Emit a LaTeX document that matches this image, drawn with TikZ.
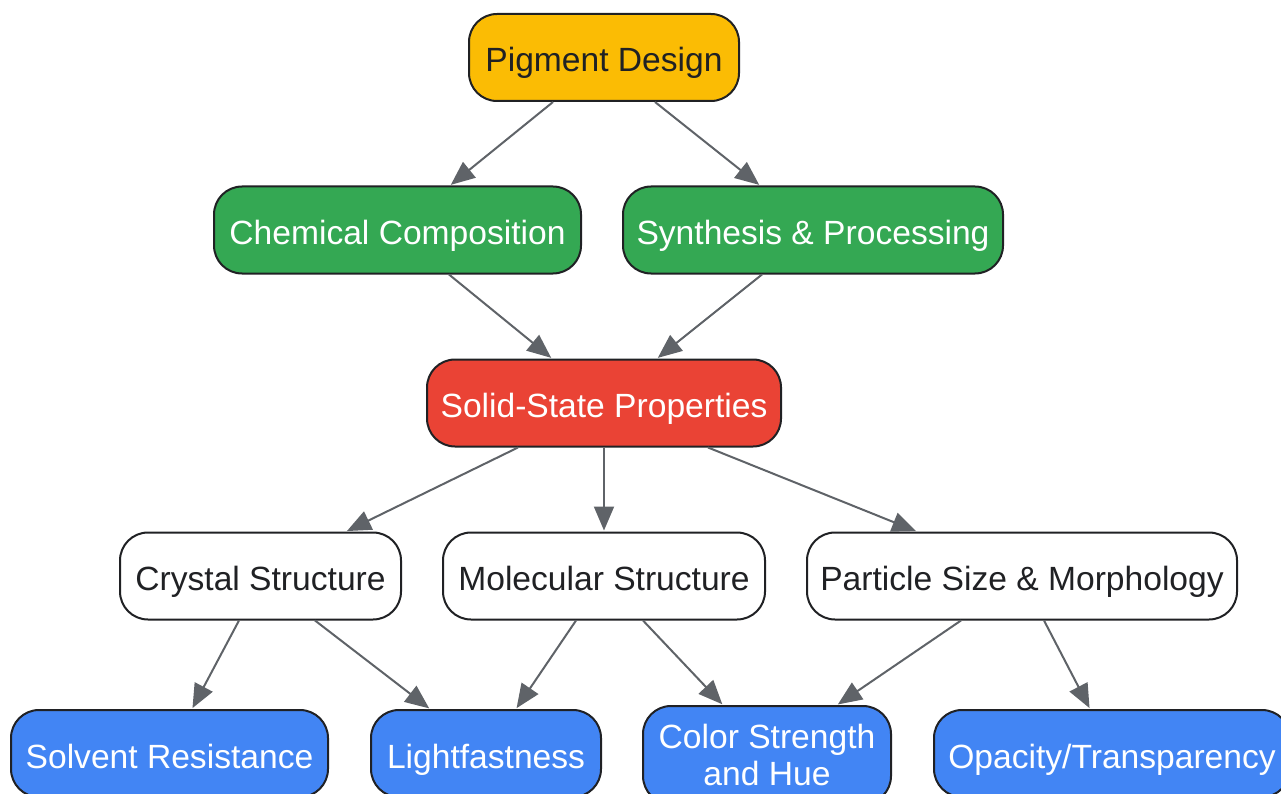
\documentclass[tikz,border=0pt]{standalone}
\usepackage{fontspec}
\setmainfont{Liberation Sans}
\usetikzlibrary{arrows.meta}
\definecolor{cyellow}{HTML}{FBBC04}
\definecolor{cgreen}{HTML}{34A853}
\definecolor{cred}{HTML}{EA4335}
\definecolor{cblue}{HTML}{4285F4}
\definecolor{cborder}{HTML}{202124}
\definecolor{carrow}{HTML}{5F6368}
\tikzset{
  box/.style={draw=cborder, line width=2pt, rounded corners=28pt, minimum height=87pt,
    inner sep=0pt, align=center, font=\fontsize{33.6}{37}\selectfont},
  oneline/.style={text height=33pt, text depth=4pt},
  yel/.style={box, oneline, fill=cyellow, text=cborder},
  grn/.style={box, oneline, fill=cgreen, text=white},
  rd/.style={box, oneline, fill=cred, text=white},
  wht/.style={box, oneline, fill=white, text=cborder},
  blu/.style={box, oneline, fill=cblue, text=white},
  blutwo/.style={box, fill=cblue, text=white},
  link/.style={draw=carrow, line width=2pt, -{Triangle[length=24pt,width=20pt]}, shorten >=1pt}
}
\begin{document}
\begin{tikzpicture}[x=1pt,y=1pt]
\useasboundingbox (0,0) rectangle (1281,-794);
\clip (0,0) rectangle (1281,-794);
\node[yel, minimum width=270pt] (pd) at (604,-57.5) {Pigment Design};
\node[grn, minimum width=367pt] (cc) at (397.5,-230) {Chemical Composition};
\node[grn, minimum width=380pt] (sp) at (813,-230) {Synthesis \& Processing};
\node[rd, minimum width=354pt] (ss) at (604,-403) {Solid-State Properties};
\node[wht, minimum width=281pt] (cs) at (260.5,-576) {Crystal Structure};
\node[wht, minimum width=322pt] (ms) at (604,-576) {Molecular Structure};
\node[wht, minimum width=430pt] (ps) at (1022,-576) {Particle Size \& Morphology};
\node[blu, minimum width=317pt] (sr) at (169.5,-753.5) {Solvent Resistance};
\node[blu, minimum width=230pt] (lf) at (486,-753.5) {Lightfastness};
\node[blutwo, minimum width=248pt, minimum height=98pt] (ch) at (767,-755) {Color Strength\\and Hue};
\node[blu, minimum width=356pt] (op) at (1112,-753.5) {Opacity/Transparency};

\draw[link] ([xshift=-51pt]pd.south) -- ([xshift=52.5pt]cc.north);
\draw[link] ([xshift=51pt]pd.south) -- ([xshift=-53pt]sp.north);
\draw[link] ([xshift=51.5pt]cc.south) -- ([xshift=-52pt]ss.north);
\draw[link] ([xshift=-51pt]sp.south) -- ([xshift=53pt]ss.north);
\draw[link] ([xshift=-86pt]ss.south) -- ([xshift=85.5pt]cs.north);
\draw[link] (ss.south) -- (ms.north);
\draw[link] ([xshift=104pt]ss.south) -- ([xshift=-105pt]ps.north);
\draw[link] ([xshift=-21.5pt]cs.south) -- ([xshift=22.5pt]sr.north);
\draw[link] ([xshift=54.5pt]cs.south) -- ([xshift=-56pt]lf.north);
\draw[link] ([xshift=-28pt]ms.south) -- ([xshift=30pt]lf.north);
\draw[link] ([xshift=39pt]ms.south) -- ([xshift=-44pt]ch.north);
\draw[link] ([xshift=-61pt]ps.south) -- ([xshift=70pt]ch.north);
\draw[link] ([xshift=22pt]ps.south) -- ([xshift=-22pt]op.north);
\end{tikzpicture}
\end{document}
